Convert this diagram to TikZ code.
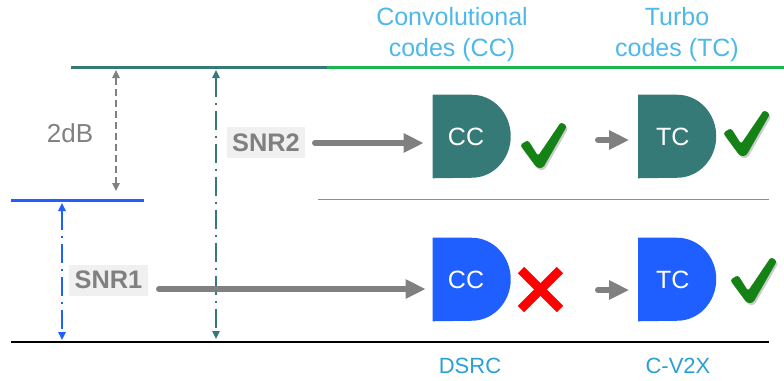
\documentclass[tikz,border=0pt]{standalone}
\usepackage{fontspec}
\setmainfont{Liberation Sans}
\usetikzlibrary{arrows.meta,backgrounds}

\definecolor{tealc}{RGB}{54,122,120}
\definecolor{bluec}{RGB}{31,94,255}
\definecolor{greenl}{RGB}{28,181,80}
\definecolor{purplel}{RGB}{150,132,172}
\definecolor{headc}{RGB}{78,184,234}
\definecolor{footc}{RGB}{41,160,214}
\definecolor{grayc}{RGB}{128,128,128}
\definecolor{okgreen}{RGB}{20,130,20}

% D-shaped code block behind a named box node
\newcommand\dblock[2]{%
  \fill[#2] (#1.north west) -- ++(39,0)
    arc[start angle=90,end angle=-90,x radius=29.25pt,y radius=31.125pt]
    -- (#1.south west) -- cycle;}

% check mark outline
\newcommand\okpath{(0,25) -- (8,20) -- (18,36) -- (41,2) -- (47,6) -- (23,48) -- (17,48) -- cycle}

\tikzset{
  codebox/.style={minimum width=58.5pt,minimum height=62.25pt,inner sep=0pt,
    text=white,font=\fontsize{18.75pt}{20pt}\selectfont},
  snrbox/.style={fill=gray!12,text=grayc,inner xsep=4pt,inner ysep=0pt,
    minimum height=23.25pt,font=\bfseries\fontsize{19pt}{20pt}\selectfont},
  head/.style={text=headc,align=center,font=\fontsize{18.75pt}{23.25pt}\selectfont},
  foot/.style={text=footc,font=\fontsize{16.5pt}{18pt}\selectfont},
  bigarrow/.style={draw=grayc,line width=4.5pt,line cap=round,
    -{Triangle[length=15pt,width=13.5pt]}},
  gapdash/.style={grayc,line width=1.5pt,dash pattern=on 5.25pt off 3pt,
    {Triangle[length=6pt,width=5.5pt]}-{Triangle[length=6pt,width=5.5pt]}},
  dashdot/.style={line width=1.5pt,
    dash pattern=on 14.25pt off 4.5pt on 1.5pt off 4.5pt,
    {Triangle[length=6pt,width=5.5pt]}-{Triangle[length=6pt,width=5.5pt]}},
  okmark/.pic={
    \fill[black,opacity=.2,shift={(1.5,2)},rounded corners=2pt] \okpath;
    \fill[okgreen,rounded corners=2pt] \okpath;
  }
}

\begin{document}
\begin{tikzpicture}[x=0.75pt,y=-0.75pt]
\useasboundingbox (0,0) rectangle (784,380);

% level lines
\draw[tealc,line width=2.25pt] (71,67) -- (327,67);
\draw[greenl,line width=2.25pt] (327,67) -- (784,67);
\draw[bluec,line width=2.25pt] (11,200) -- (144,200);
\draw[purplel,line width=1.1pt] (318,199.5) -- (769,199.5);
\draw[black,line width=1.1pt] (11,342) -- (769,342);

% headers and footers
\node[head] (hcc) at (452,35) {Convolutional\\codes (CC)};
\node[head] (htc) at (677,35) {Turbo\\codes (TC)};
\node[foot] (dsrc) at (470,366) {DSRC};
\node[foot] (cv2x) at (678,366) {C-V2X};

% SNR margins
\coordinate (g1) at (116,70);  \coordinate (g2) at (116,191);
\draw[gapdash] (g1) -- (g2);
\node[text=grayc,font=\fontsize{19.5pt}{20pt}\selectfont] (gain) at (70,133) {2dB};

\coordinate (t1) at (216,70);  \coordinate (t2) at (216,339);
\draw[dashdot,tealc] (t1) -- (t2);
\coordinate (b1) at (62,203);  \coordinate (b2) at (62,340);
\draw[dashdot,bluec] (b1) -- (b2);

\node[snrbox] (snr2) at (266,142.5) {SNR2};
\node[snrbox] (snr1) at (108.5,280) {SNR1};

% code blocks
\node[codebox] (cc1) at (472,136.5) {CC\kern9pt};
\node[codebox] (tc1) at (677.5,136.5) {TC\kern7pt};
\node[codebox] (cc2) at (472,279.5) {CC\kern9pt};
\node[codebox] (tc2) at (677.5,279.5) {TC\kern7pt};
\begin{scope}[on background layer]
  \dblock{cc1}{tealc}
  \dblock{tc1}{tealc}
  \dblock{cc2}{bluec}
  \dblock{tc2}{bluec}
\end{scope}

% flow arrows
\coordinate (a2) at (315,143);
\draw[bigarrow,shorten >=6.75pt] (a2) -- (a2 -| cc1.west);
\coordinate (a1) at (159,289);
\draw[bigarrow,shorten >=5.25pt] (a1) -- (a1 -| cc2.west);
\coordinate (s1) at (598,140);
\draw[bigarrow,shorten >=6.75pt] (s1) -- (s1 -| tc1.west);
\coordinate (s2) at (598,290);
\draw[bigarrow,shorten >=6.75pt] (s2) -- (s2 -| tc2.west);

% outcomes
\pic at (520,120) {okmark};
\pic at (723,108) {okmark};
\pic at (730,255) {okmark};
\draw[red,line width=6.75pt] (521,270) -- (560,309);
\draw[red,line width=6.75pt] (560,270) -- (521,309);
\end{tikzpicture}
\end{document}
